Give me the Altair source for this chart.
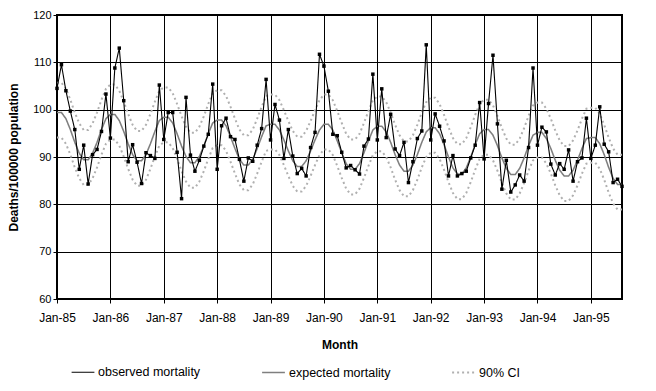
import altair as alt
import pandas as pd

# ---- data (monthly, Jan-85 .. Aug-95) ----
observed = [
    104.5, 109.5, 104.0, 99.7, 95.8, 87.4, 92.5, 84.3, 90.5, 91.6, 95.4, 103.3,   # 1985
    94.0, 108.8, 113.0, 101.9, 89.0, 92.6, 88.9, 84.4, 90.9, 90.3, 89.7, 105.2,   # 1986
    93.7, 99.4, 99.4, 91.0, 81.2, 102.6, 90.4, 87.0, 89.3, 92.3, 94.8, 105.4,     # 1987
    87.4, 96.6, 98.2, 94.3, 93.7, 89.5, 84.9, 89.8, 89.1, 92.5, 96.0, 106.4,      # 1988
    93.6, 101.1, 97.8, 89.7, 95.8, 90.2, 86.5, 87.6, 86.0, 92.0, 95.2, 111.7,     # 1989
    109.2, 103.9, 94.8, 94.5, 91.0, 87.7, 88.2, 87.3, 86.4, 92.3, 93.8, 107.5,    # 1990
    93.6, 104.4, 94.1, 99.0, 91.7, 90.3, 93.1, 84.6, 89.0, 93.9, 95.5, 113.7,     # 1991
    93.6, 99.1, 96.5, 93.4, 86.0, 90.3, 86.0, 86.5, 87.0, 89.8, 92.5, 101.5,      # 1992
    89.6, 101.3, 111.5, 97.0, 83.2, 89.3, 82.6, 84.1, 86.2, 84.9, 92.0, 108.8,    # 1993
    92.5, 96.3, 95.3, 88.5, 86.2, 88.6, 87.4, 91.5, 84.9, 89.0, 89.8, 98.2,       # 1994
    89.7, 92.5, 100.6, 92.7, 91.1, 84.6, 85.3, 83.8,                              # 1995
]

expected = [
    99.4, 99.4, 98.1, 95.8, 93.1, 90.8, 89.4, 89.4, 90.8, 93.1, 95.8, 98.1,
    99.0, 99.0, 97.7, 95.4, 92.8, 90.5, 89.2, 89.2, 90.5, 92.8, 95.4, 97.7,
    98.4, 98.4, 97.2, 94.9, 92.3, 90.1, 88.8, 88.8, 90.1, 92.3, 94.9, 97.2,
    97.8, 97.8, 96.6, 94.3, 91.8, 89.5, 88.3, 88.3, 89.5, 91.8, 94.3, 96.6,
    96.9, 96.9, 95.7, 93.6, 91.3, 89.2, 88.0, 88.0, 89.2, 91.3, 93.6, 95.7,
    96.9, 96.9, 95.7, 93.4, 90.9, 88.6, 87.4, 87.4, 88.6, 90.9, 93.4, 95.7,
    96.5, 96.5, 95.3, 93.1, 90.5, 88.3, 87.0, 87.0, 88.3, 90.5, 93.1, 95.3,
    96.2, 96.2, 94.9, 92.6, 90.0, 87.7, 86.4, 86.4, 87.7, 90.0, 92.6, 94.9,
    95.8, 95.8, 94.6, 92.4, 89.8, 87.6, 86.3, 86.3, 87.6, 89.8, 92.4, 94.6,
    95.2, 95.2, 93.9, 91.8, 89.3, 87.2, 86.0, 86.0, 87.2, 89.3, 91.8, 93.9,
    94.1, 94.1, 92.8, 90.5, 87.8, 85.5, 84.2, 84.2,
]

ci_upper = [
    105.7, 105.7, 104.4, 102.1, 99.4, 97.1, 95.7, 95.7, 97.1, 99.4, 102.1, 104.4,
    105.3, 105.3, 104.0, 101.7, 99.1, 96.8, 95.5, 95.5, 96.8, 99.1, 101.7, 104.0,
    104.7, 104.7, 103.5, 101.2, 98.6, 96.4, 95.1, 95.1, 96.4, 98.6, 101.2, 103.5,
    104.1, 104.1, 102.9, 100.6, 98.1, 95.8, 94.6, 94.6, 95.8, 98.1, 100.6, 102.9,
    103.2, 103.2, 102.0, 99.9, 97.6, 95.5, 94.3, 94.3, 95.5, 97.6, 99.9, 102.0,
    103.2, 103.2, 102.0, 99.7, 97.2, 94.9, 93.7, 93.7, 94.9, 97.2, 99.7, 102.0,
    102.8, 102.8, 101.6, 99.4, 96.8, 94.6, 93.3, 93.3, 94.6, 96.8, 99.4, 101.6,
    102.5, 102.5, 101.2, 98.9, 96.3, 94.0, 92.7, 92.7, 94.0, 96.3, 98.9, 101.2,
    102.1, 102.1, 100.9, 98.7, 96.1, 93.9, 92.6, 92.6, 93.9, 96.1, 98.7, 100.9,
    101.5, 101.5, 100.2, 98.1, 95.6, 93.5, 92.3, 92.3, 93.5, 95.6, 98.1, 100.2,
    100.4, 100.4, 99.1, 96.8, 94.1, 91.8, 90.5, 90.5,
]

ci_lower = [
    94.1, 94.1, 92.8, 90.5, 87.8, 85.5, 84.1, 84.1, 85.5, 87.8, 90.5, 92.8,
    93.7, 93.7, 92.4, 90.1, 87.5, 85.2, 83.9, 83.9, 85.2, 87.5, 90.1, 92.4,
    93.1, 93.1, 91.9, 89.6, 87.0, 84.8, 83.5, 83.5, 84.8, 87.0, 89.6, 91.9,
    92.5, 92.5, 91.3, 89.0, 86.5, 84.2, 83.0, 83.0, 84.2, 86.5, 89.0, 91.3,
    91.6, 91.6, 90.4, 88.3, 86.0, 83.9, 82.7, 82.7, 83.9, 86.0, 88.3, 90.4,
    91.6, 91.6, 90.4, 88.1, 85.6, 83.3, 82.1, 82.1, 83.3, 85.6, 88.1, 90.4,
    91.2, 91.2, 90.0, 87.8, 85.2, 83.0, 81.7, 81.7, 83.0, 85.2, 87.8, 90.0,
    90.9, 90.9, 89.6, 87.3, 84.7, 82.4, 81.1, 81.1, 82.4, 84.7, 87.3, 89.6,
    90.5, 90.5, 89.3, 87.1, 84.5, 82.3, 81.0, 81.0, 82.3, 84.5, 87.1, 89.3,
    89.9, 89.9, 88.6, 86.5, 84.0, 81.9, 80.7, 80.7, 81.9, 84.0, 86.5, 88.6,
    88.8, 88.8, 87.5, 85.2, 82.5, 80.2, 78.9, 78.9,
]

tick_months = [0, 12, 24, 36, 48, 60, 72, 84, 96, 108, 120]
tick_labels = ["Jan-85", "Jan-86", "Jan-87", "Jan-88", "Jan-89", "Jan-90",
               "Jan-91", "Jan-92", "Jan-93", "Jan-94", "Jan-95"]
y_ticks = [60, 70, 80, 90, 100, 110, 120]
series_names = ["observed mortality", "expected mortality", "90% CI"]

rows = []
for i, v in enumerate(observed):
    rows.append({"month": i, "value": v, "series": series_names[0], "line": "obs"})
for i, v in enumerate(expected):
    rows.append({"month": i, "value": v, "series": series_names[1], "line": "exp"})
for i, v in enumerate(ci_upper):
    rows.append({"month": i, "value": v, "series": series_names[2], "line": "ci_up"})
for i, v in enumerate(ci_lower):
    rows.append({"month": i, "value": v, "series": series_names[2], "line": "ci_lo"})
df = pd.DataFrame(rows)

label_expr = "[" + ",".join("'" + t + "'" for t in tick_labels) + "][round(datum.value/12)]"

FONT = "Liberation Sans"

x = alt.X(
    "month:Q",
    scale=alt.Scale(domain=[0, len(observed) - 1], nice=False, zero=False),
    axis=alt.Axis(
        values=tick_months, labelExpr=label_expr, grid=True, gridColor="black",
        gridOpacity=1, gridWidth=1, domain=False, ticks=True, tickColor="black",
        tickSize=4, labelPadding=9, labelFontSize=12, labelColor="black",
        labelFont=FONT, labelFlush=False, labelOverlap=False,
        title="Month", titleFont=FONT, titleFontSize=12,
        titleFontWeight="bold", titleColor="black", titleY=40,
        titleBaseline="top",
    ),
)
y = alt.Y(
    "value:Q",
    scale=alt.Scale(domain=[60, 120], nice=False, zero=False),
    axis=alt.Axis(
        values=y_ticks, grid=True, gridColor="black", gridOpacity=1, gridWidth=1,
        domain=False, ticks=True, tickColor="black", tickSize=4, labelPadding=2,
        labelFontSize=11, labelColor="black", labelFont=FONT, labelFlush=False,
        title="Deaths/100000 population", titleFont=FONT, titleFontSize=12,
        titleFontWeight="bold", titleColor="black", titleX=-37, titleY=142,
        titleBaseline="bottom", titleAngle=270,
    ),
)

color = alt.Color(
    "series:N",
    scale=alt.Scale(domain=series_names, range=["#000000", "#7f7f7f", "#b0b0b0"]),
    legend=alt.Legend(
        title=None, orient="none", legendX=14, legendY=345, direction="horizontal",
        symbolType="stroke", symbolSize=520, labelFont=FONT, labelFontSize=12.5,
        labelColor="black", labelOffset=3, columnPadding=57,
    ),
)
dash = alt.StrokeDash(
    "series:N",
    scale=alt.Scale(domain=series_names, range=[[1, 0], [1, 0], [2, 3]]),
    legend=alt.Legend(title=None),
)
width_enc = alt.StrokeWidth(
    "series:N",
    scale=alt.Scale(domain=series_names, range=[1.1, 2.0, 1.3]),
    legend=alt.Legend(title=None),
)

base = alt.Chart(df)

ci_layer = base.transform_filter(alt.datum.line == "ci_up").mark_line().encode(
    x=x, y=y, color=color, strokeDash=dash, strokeWidth=width_enc)
ci_layer2 = base.transform_filter(alt.datum.line == "ci_lo").mark_line().encode(
    x=x, y=y, color=color, strokeDash=dash, strokeWidth=width_enc)
exp_layer = base.transform_filter(alt.datum.line == "exp").mark_line().encode(
    x=x, y=y, color=color, strokeDash=dash, strokeWidth=width_enc)
obs_layer = base.transform_filter(alt.datum.line == "obs").mark_line().encode(
    x=x, y=y, color=color, strokeDash=dash, strokeWidth=width_enc)
pts_layer = base.transform_filter(alt.datum.line == "obs").mark_square(
    size=12, color="black", opacity=1).encode(x=x, y=y)

chart = alt.layer(ci_layer, ci_layer2, exp_layer, obs_layer, pts_layer).properties(
    width=565, height=284,
    autosize=alt.AutoSizeParams(type="none"),
    padding={"left": 49, "top": 7, "right": 26, "bottom": 84},
    background="white",
).configure_view(
    stroke="black", strokeWidth=2
)

chart.save("out.html", embed_options={"renderer": "svg", "actions": False})
